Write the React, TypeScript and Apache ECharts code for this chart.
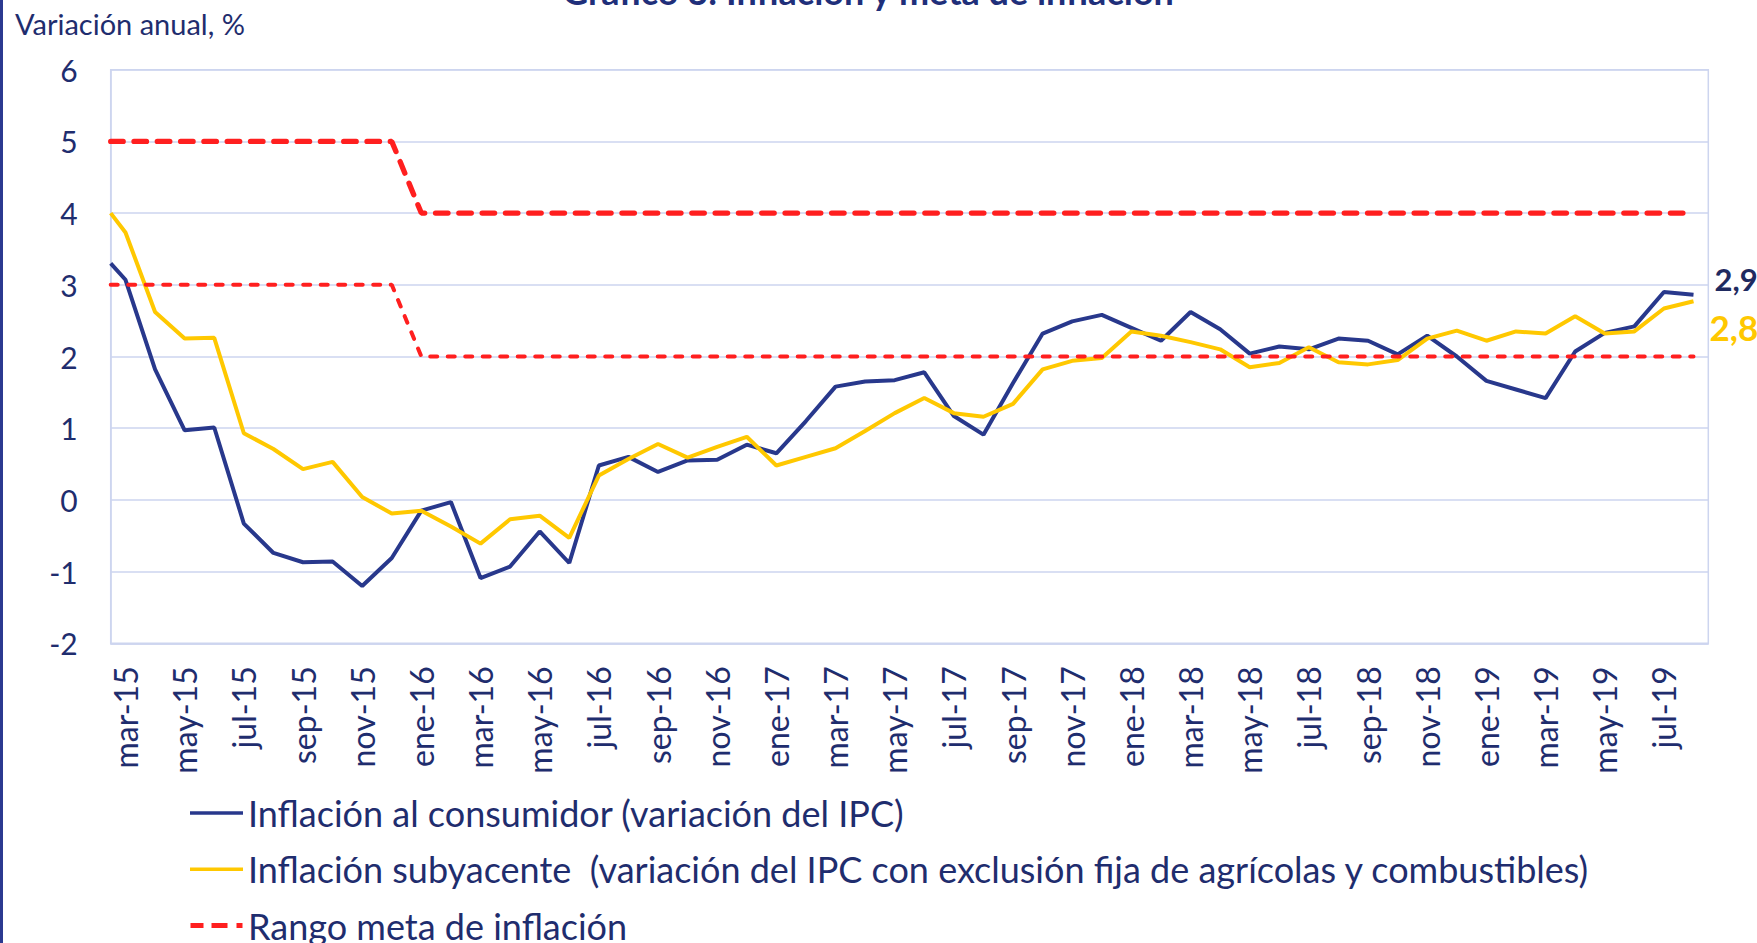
import React, { useEffect, useRef } from "react";
import * as echarts from "echarts";

// Categorías (meses, mar-15 a ago-19)
const meses = [
  "mar-15","abr-15","may-15","jun-15","jul-15","ago-15","sep-15","oct-15","nov-15","dic-15",
  "ene-16","feb-16","mar-16","abr-16","may-16","jun-16","jul-16","ago-16","sep-16","oct-16","nov-16","dic-16",
  "ene-17","feb-17","mar-17","abr-17","may-17","jun-17","jul-17","ago-17","sep-17","oct-17","nov-17","dic-17",
  "ene-18","feb-18","mar-18","abr-18","may-18","jun-18","jul-18","ago-18","sep-18","oct-18","nov-18","dic-18",
  "ene-19","feb-19","mar-19","abr-19","may-19","jun-19","jul-19","ago-19",
];

// Inflación al consumidor (variación del IPC)
const ipc = [
  3.07, 1.82, 0.97, 1.01, -0.33, -0.74, -0.87, -0.86, -1.2, -0.81,
  -0.15, -0.03, -1.09, -0.93, -0.44, -0.88, 0.48, 0.6, 0.39, 0.55, 0.56, 0.77,
  0.65, 1.1, 1.58, 1.65, 1.67, 1.78, 1.17, 0.91, 1.63, 2.32, 2.49, 2.58,
  2.4, 2.22, 2.62, 2.38, 2.04, 2.14, 2.1, 2.25, 2.22, 2.03, 2.29, 2.0,
  1.66, 1.54, 1.42, 2.07, 2.33, 2.42, 2.9, 2.86,
];

// Inflación subyacente
const subyacente = [
  3.73, 2.62, 2.25, 2.26, 0.93, 0.71, 0.43, 0.53, 0.04, -0.19,
  -0.15, -0.37, -0.61, -0.27, -0.22, -0.53, 0.34, 0.57, 0.78, 0.59, 0.74, 0.88,
  0.48, 0.6, 0.72, 0.96, 1.21, 1.42, 1.21, 1.16, 1.34, 1.82, 1.94, 1.98,
  2.35, 2.29, 2.2, 2.1, 1.85, 1.91, 2.13, 1.92, 1.89, 1.95, 2.25, 2.36,
  2.22, 2.35, 2.32, 2.56, 2.32, 2.35, 2.67, 2.77,
];

// Rango meta de inflación
const metaSuperior = [
  5, 5, 5, 5, 5, 5, 5, 5, 5, 5,
  4, 4, 4, 4, 4, 4, 4, 4, 4, 4, 4, 4,
  4, 4, 4, 4, 4, 4, 4, 4, 4, 4, 4, 4,
  4, 4, 4, 4, 4, 4, 4, 4, 4, 4, 4, 4,
  4, 4, 4, 4, 4, 4, 4, 4,
];
const metaInferior = [
  3, 3, 3, 3, 3, 3, 3, 3, 3, 3,
  2, 2, 2, 2, 2, 2, 2, 2, 2, 2, 2, 2,
  2, 2, 2, 2, 2, 2, 2, 2, 2, 2, 2, 2,
  2, 2, 2, 2, 2, 2, 2, 2, 2, 2, 2, 2,
  2, 2, 2, 2, 2, 2, 2, 2,
];

// Valores en el borde izquierdo del área de trazado (medio mes antes de mar-15)
const bordeIpc = 3.3;
const bordeSubyacente = 4.0;
const bordeMetaSuperior = 5;
const bordeMetaInferior = 3;

const yTicks = { min: -2, max: 6, interval: 1 };

const nombres = [
  "Inflación al consumidor (variación del IPC)",
  "Inflación subyacente  (variación del IPC con exclusión fija de agrícolas y combustibles)",
  "Rango meta de inflación",
];

const FONT = "Lato";
const TEXT = "#1F2D6E";
const GRID = "#CDD5EF";
const BLUE = "#28388C";
const YELLOW = "#FFC800";
const RED = "#FF1F1F";

function pares(borde: number, vals: number[]) {
  return [[-0.5, borde], ...vals.map((v, i) => [i, v])];
}

export default function App() {
  const ref = useRef<HTMLDivElement>(null);

  useEffect(() => {
    document.body.style.margin = "0";
    if (!ref.current) return;
    const chart = echarts.init(ref.current, undefined, { renderer: "svg" });
    const labelIdx = meses.map((_, i) => i).filter((i) => i % 2 === 0);
    const fmt = (p: any) => {
      const v = Array.isArray(p.value) ? p.value[1] : p.value;
      return v.toFixed(1).replace(".", ",");
    };

    chart.setOption({
      animation: false,
      backgroundColor: "#ffffff",
      grid: {
        left: 110.7,
        right: 48.7,
        top: 69.7,
        bottom: 299.7,
        show: true,
        borderColor: GRID,
        borderWidth: 1.5,
        backgroundColor: "transparent",
      },
      xAxis: {
        type: "value",
        min: -0.5,
        max: meses.length - 0.5,
        axisLine: { show: true, onZero: false, lineStyle: { color: GRID, width: 1.5 } },
        axisTick: { show: false },
        splitLine: { show: false },
        axisLabel: {
          customValues: labelIdx,
          formatter: (v: number) => meses[Math.round(v)] ?? "",
          rotate: 90,
          fontSize: 32,
          color: TEXT,
          fontFamily: FONT,
          margin: 23,
        },
      },
      yAxis: {
        type: "value",
        min: yTicks.min,
        max: yTicks.max,
        interval: yTicks.interval,
        axisLine: { show: true, onZero: false, lineStyle: { color: GRID, width: 1.5 } },
        axisTick: { show: false },
        splitLine: { show: true, lineStyle: { color: GRID, width: 1.5 } },
        axisLabel: { fontSize: 30, color: TEXT, fontFamily: FONT, margin: 33 },
      },
      legend: {
        orient: "vertical",
        left: 190,
        top: 795,
        height: 200,
        padding: 0,
        itemWidth: 53,
        itemHeight: 5,
        itemGap: 20.3,
        data: [
          { name: nombres[0], icon: "path://M0,1h53v3.5h-53z" },
          { name: nombres[1], icon: "path://M0,1h53v3.5h-53z" },
          {
            name: nombres[2],
            icon: "path://M0,0h13v5h-13z M21,0h16v5h-16z M46,0h6v5h-6z",
          },
        ],
        textStyle: { fontSize: 36, color: TEXT, fontFamily: FONT, lineHeight: 36 },
      },
      series: [
        {
          name: nombres[0],
          type: "line",
          data: pares(bordeIpc, ipc),
          symbol: "none",
          lineStyle: { color: BLUE, width: 4 },
          itemStyle: { color: BLUE },
          z: 3,
          endLabel: {
            show: true,
            formatter: fmt,
            offset: [13, -16],
            fontSize: 31,
            fontWeight: "bold",
            color: "#1F2A60",
            fontFamily: FONT,
          },
        },
        {
          name: nombres[1],
          type: "line",
          data: pares(bordeSubyacente, subyacente),
          symbol: "none",
          lineStyle: { color: YELLOW, width: 4 },
          itemStyle: { color: YELLOW },
          z: 4,
          endLabel: {
            show: true,
            formatter: fmt,
            offset: [8, 26],
            fontSize: 35,
            fontWeight: "bold",
            color: YELLOW,
            fontFamily: FONT,
          },
        },
        {
          name: nombres[2],
          type: "line",
          data: pares(bordeMetaSuperior, metaSuperior),
          symbol: "none",
          lineStyle: { color: RED, width: 5.3, type: [12.5, 10.8], cap: "round" },
          itemStyle: { color: RED },
          z: 5,
        },
        {
          name: nombres[2],
          type: "line",
          data: pares(bordeMetaInferior, metaInferior),
          symbol: "none",
          lineStyle: { color: RED, width: 4, type: [7, 10.5], cap: "round" },
          itemStyle: { color: RED },
          z: 5,
        },
      ],
      graphic: [
        {
          type: "rect",
          left: 0,
          top: 0,
          shape: { width: 3, height: 943 },
          style: { fill: "#2B3990" },
        },
        {
          type: "text",
          x: 15,
          y: 23,
          style: {
            text: "Variación anual, %",
            fontSize: 29,
            fontFamily: FONT,
            fill: TEXT,
            verticalAlign: "middle",
            align: "left",
          },
        },
        {
          type: "text",
          x: 868,
          y: -9,
          style: {
            text: "Gráfico 3: Inflación y meta de inflación",
            fontSize: 36,
            fontWeight: "bold",
            fontFamily: FONT,
            fill: "#1F2F7A",
            verticalAlign: "middle",
            align: "center",
          },
        },
      ],
    });

    return () => chart.dispose();
  }, []);

  return <div ref={ref} style={{ width: 1757, height: 943 }} />;
}
